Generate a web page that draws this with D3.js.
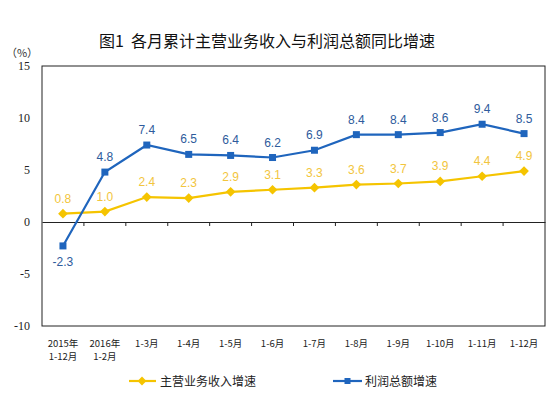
<!DOCTYPE html>
<html>
<head>
<meta charset="utf-8">
<script src="https://cdn.jsdelivr.net/npm/d3@7"></script>
<style>
  body { margin: 0; background: #fff; }
  text { font-family: "SimSun", "Noto Sans CJK SC", sans-serif; }
  .num { font-family: "Liberation Serif", "Times New Roman", serif; }
  .lab { font-family: "Liberation Sans", Arial, sans-serif; }
</style>
</head>
<body>
<svg id="chart" width="551" height="397"></svg>
<script>
const categories = ['2015年\n1-12月', '2016年\n1-2月', '1-3月', '1-4月', '1-5月', '1-6月',
  '1-7月', '1-8月', '1-9月', '1-10月', '1-11月', '1-12月']
const revenueGrowth = [0.8, 1.0, 2.4, 2.3, 2.9, 3.1, 3.3, 3.6, 3.7, 3.9, 4.4, 4.9]
const profitGrowth = [-2.3, 4.8, 7.4, 6.5, 6.4, 6.2, 6.9, 8.4, 8.4, 8.6, 9.4, 8.5]
const yTicks = [-10, -5, 0, 5, 10, 15]

const svg = d3.select('#chart')
const margin = { top: 66, right: 6, bottom: 71, left: 42 }
const width = 551 - margin.left - margin.right
const height = 397 - margin.top - margin.bottom

const x = d3.scaleBand().domain(categories).range([margin.left, margin.left + width])
const y = d3.scaleLinear().domain([-10, 15]).range([margin.top + height, margin.top])
const cx = (d, i) => x(categories[i]) + x.bandwidth() / 2

// title
svg.append('text')
  .attr('x', 267).attr('y', 47)
  .attr('text-anchor', 'middle')
  .attr('font-size', 16).attr('font-weight', 'normal').attr('fill', '#111')
  .text('图1\u00a0\u00a0各月累计主营业务收入与利润总额同比增速')

svg.append('text')
  .attr('x', 22).attr('y', 57)
  .attr('text-anchor', 'middle')
  .attr('font-size', 11).attr('fill', '#333')
  .text('（%）')

// frame
svg.append('rect')
  .attr('x', margin.left).attr('y', margin.top)
  .attr('width', width).attr('height', height)
  .attr('fill', 'none').attr('stroke', '#222').attr('stroke-width', 1)

// y axis labels
svg.append('g').selectAll('text').data(yTicks).join('text')
  .attr('class', 'num')
  .attr('x', 30).attr('y', d => y(d) + 4)
  .attr('text-anchor', 'end')
  .attr('font-size', 12).attr('fill', '#222')
  .text(d => d)

// zero line with ticks
const xAxis = svg.append('g').attr('transform', `translate(0,${y(0)})`)
  .call(d3.axisBottom(x).tickSize(0).tickFormat(''))
xAxis.select('.domain').attr('stroke', '#222')
xAxis.selectAll('line.sep').data(categories.slice(1)).join('line')
  .attr('class', 'sep')
  .attr('x1', d => x(d)).attr('x2', d => x(d))
  .attr('y1', 0).attr('y2', 4).attr('stroke', '#222')

// x labels (one text per line)
const xLines = categories.flatMap(c => c.split('\n').map((t, k) => ({ c, t, k })))
svg.append('g').selectAll('text').data(xLines).join('text')
  .attr('x', d => x(d.c) + x.bandwidth() / 2)
  .attr('y', d => 347 + d.k * 13)
  .attr('text-anchor', 'middle')
  .attr('font-size', 9.5).attr('fill', '#222')
  .text(d => d.t)

const line = d3.line().x(cx).y(d => y(d))

const blue = '#1F65BD'
const yellow = '#F5C400'

// revenue series
svg.append('path').datum(revenueGrowth)
  .attr('d', line).attr('fill', 'none').attr('stroke', yellow).attr('stroke-width', 2.2)
svg.append('g').selectAll('path').data(revenueGrowth).join('path')
  .attr('d', d3.symbol(d3.symbolDiamond2, 60))
  .attr('transform', (d, i) => `translate(${cx(d, i)},${y(d)})`)
  .attr('fill', yellow)
svg.append('g').selectAll('text').data(revenueGrowth).join('text')
  .attr('class', 'lab')
  .attr('x', cx).attr('y', d => y(d) - 11)
  .attr('text-anchor', 'middle').attr('font-size', 12).attr('fill', '#F2C53D')
  .text(d => d.toFixed(1))

// profit series
svg.append('path').datum(profitGrowth)
  .attr('d', line).attr('fill', 'none').attr('stroke', blue).attr('stroke-width', 2.2)
svg.append('g').selectAll('rect').data(profitGrowth).join('rect')
  .attr('x', (d, i) => cx(d, i) - 3.5).attr('y', d => y(d) - 3.5)
  .attr('width', 7).attr('height', 7)
  .attr('fill', blue)
svg.append('g').selectAll('text').data(profitGrowth).join('text')
  .attr('class', 'lab')
  .attr('x', cx).attr('y', d => d < 0 ? y(d) + 20 : y(d) - 11)
  .attr('text-anchor', 'middle').attr('font-size', 12).attr('fill', '#2E5B9C')
  .text(d => d.toFixed(1))

// legend
const lg = svg.append('g')
lg.append('line').attr('x1', 129).attr('x2', 156).attr('y1', 381).attr('y2', 381)
  .attr('stroke', yellow).attr('stroke-width', 2.2)
lg.append('path').attr('d', d3.symbol(d3.symbolDiamond2, 50))
  .attr('transform', 'translate(142,381)').attr('fill', yellow)
lg.append('text').attr('x', 160).attr('y', 386).attr('font-size', 12).attr('fill', '#222')
  .text('主营业务收入增速')
lg.append('line').attr('x1', 333).attr('x2', 362).attr('y1', 381).attr('y2', 381)
  .attr('stroke', blue).attr('stroke-width', 2.2)
lg.append('rect').attr('x', 344.5).attr('y', 378).attr('width', 6).attr('height', 6).attr('fill', blue)
lg.append('text').attr('x', 365).attr('y', 386).attr('font-size', 12).attr('fill', '#222')
  .text('利润总额增速')
</script>
</body>
</html>
